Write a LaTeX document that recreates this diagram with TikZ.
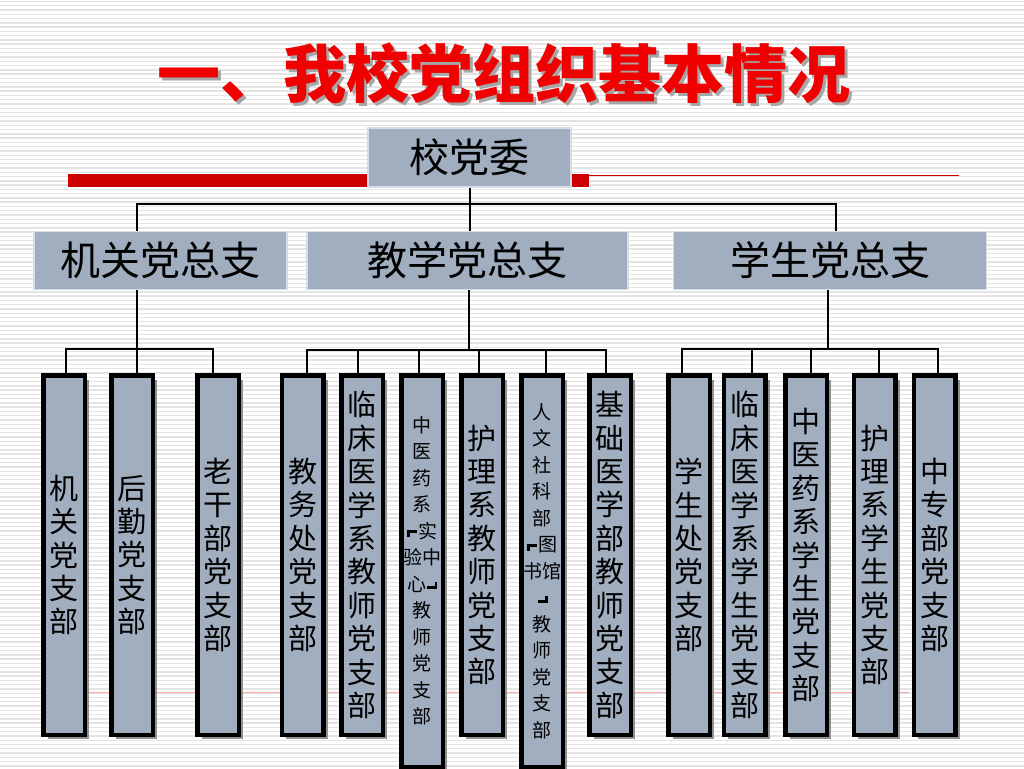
\documentclass[tikz,border=0pt]{standalone}
\usepackage{fontspec}
\newfontfamily\cjk{Noto Sans CJK SC}
\usetikzlibrary{shadows}
\definecolor{boxfill}{RGB}{161,174,192}
\definecolor{boxedge}{RGB}{215,221,230}
\definecolor{titlered}{RGB}{240,0,0}
\definecolor{barred}{RGB}{204,0,0}
\definecolor{stripecol}{RGB}{228,228,228}
\newcommand{\obrk}{\raisebox{1pt}{\rule{2.5pt}{7pt}}\hspace{-2.5pt}\raisebox{5pt}{\rule{10pt}{3pt}}\hspace{1pt}}
\newcommand{\cbrk}{\hspace{1pt}\raisebox{2pt}{\rule{10pt}{3pt}}\hspace{-2.5pt}\raisebox{2pt}{\rule{2.5pt}{7pt}}}
\newcommand{\titletext}{一、我校党组织基本情况}
\tikzset{
  stripe/.style={draw=stripecol, line width=1.4pt},
  headbox/.style={fill=boxfill, draw=boxedge, line width=1.2pt, inner sep=0pt,
    font=\cjk\fontsize{40}{44}\selectfont},
  leaf/.style={draw=black, line width=4.5pt, fill=boxfill, minimum width=41.5pt,
    minimum height=359.5pt, inner sep=0pt, align=center,
    font=\cjk\fontsize{29}{33.4}\selectfont,
    drop shadow={shadow xshift=4.5pt, shadow yshift=-4.5pt, fill=gray, opacity=0.85}},
  longleaf/.style={leaf, minimum height=391.5pt, font=\cjk\fontsize{19}{26.5}\selectfont},
  conn/.style={draw=black, line width=2.6pt},
  conntop/.style={draw=black, line width=2pt},
}
\begin{document}
\begin{tikzpicture}[x=1pt, y=-1pt]
\useasboundingbox (0,0) rectangle (1024,768);
\clip (0,0) rectangle (1024,768);
\fill[white] (0,0) rectangle (1024,768);
\foreach \i in {0,...,179} \draw[stripe] (0,\i*4.27+1.5) -- (1024,\i*4.27+1.5);

% title with its grey shadow
\node[font=\cjk\bfseries\fontsize{63}{68}\selectfont, text=titlered, inner sep=0pt] (title) at (504,75)
  {\makebox[0pt][l]{\hspace{3pt}\raisebox{-3pt}{\color{gray!70}\titletext}}\titletext};

% red bar and thin lines
\fill[barred] (68,174) rectangle (589,187);
\draw[barred, line width=1.2pt] (589,175.5) -- (959,175.5);
\draw[red!35, line width=0.8pt] (87,692) -- (910,692);

% top and second level
\node[headbox, minimum width=203pt, minimum height=59pt] (top) at (469.5,157.5) {校党委};
\node[headbox, minimum width=253pt, minimum height=58pt] (l2a) at (160.5,260.5) {机关党总支};
\node[headbox, minimum width=321pt, minimum height=58pt] (l2b) at (467.5,260.5) {教学党总支};
\node[headbox, minimum width=313pt, minimum height=58pt] (l2c) at (830,260.5) {学生党总支};

\coordinate (j0) at (469,204);
\draw[conntop] (top.south) -- (top.south |- l2b.north);
\draw[conntop] ([xshift=-23.5]l2a.north) |- (j0) -| ([xshift=6]l2c.north);

% leaves
\node[leaf] (a1) at (64,555) {机\\关\\党\\支\\部};
\node[leaf] (a2) at (132,555) {后\\勤\\党\\支\\部};
\node[leaf] (a3) at (218,555) {老\\干\\部\\党\\支\\部};

\node[leaf] (b1) at (302.5,555) {教\\务\\处\\党\\支\\部};
\node[leaf] (b2) at (362,555) {临\\床\\医\\学\\系\\教\\师\\党\\支\\部};
\node[longleaf] (b3) at (422,571) {中\\医\\药\\系\\\obrk 实\\验中\\心\cbrk\\教\\师\\党\\支\\部};
\node[leaf] (b4) at (482,555) {护\\理\\系\\教\\师\\党\\支\\部};
\node[longleaf] (b5) at (542,571) {人\\文\\社\\科\\部\\\obrk 图\\书馆\\\cbrk\\教\\师\\党\\支\\部};
\node[leaf] (b6) at (610,555) {基\\础\\医\\学\\部\\教\\师\\党\\支\\部};

\node[leaf] (c1) at (689,555) {学\\生\\处\\党\\支\\部};
\node[leaf] (c2) at (744.5,555) {临\\床\\医\\学\\系\\学\\生\\党\\支\\部};
\node[leaf] (c3) at (806,555) {中\\医\\药\\系\\学\\生\\党\\支\\部};
\node[leaf] (c4) at (874.5,555) {护\\理\\系\\学\\生\\党\\支\\部};
\node[leaf] (c5) at (934.5,555) {中\\专\\部\\党\\支\\部};

% connectors level 2 -> 3
\coordinate (j1) at (137,349);
\draw[conn] ([xshift=-23.5]l2a.south) -- (j1);
\draw[conn] ([xshift=2]a1.north) |- (j1);
\draw[conn] ([xshift=5]a2.north) |- (j1);
\draw[conn] ([xshift=-5]a3.north) |- (j1);

\coordinate (j2) at (469,350);
\draw[conn] ([xshift=1.5]l2b.south) -- (j2);
\draw[conn] ([xshift=4.5]b1.north) |- (j2);
\draw[conn] ([xshift=-4]b2.north) |- (j2);
\draw[conn] ([xshift=-3]b3.north) |- (j2);
\draw[conn] ([xshift=-3]b4.north) |- (j2);
\draw[conn] ([xshift=4]b5.north) |- (j2);
\draw[conn] ([xshift=-4]b6.north) |- (j2);

\coordinate (j3) at (828,349);
\draw[conn] ([xshift=-2]l2c.south) -- (j3);
\draw[conn] ([xshift=-7]c1.north) |- (j3);
\draw[conn] ([xshift=7.5]c2.north) |- (j3);
\draw[conn] ([xshift=5]c3.north) |- (j3);
\draw[conn] ([xshift=4.5]c4.north) |- (j3);
\draw[conn] ([xshift=3.5]c5.north) |- (j3);
\end{tikzpicture}
\end{document}
